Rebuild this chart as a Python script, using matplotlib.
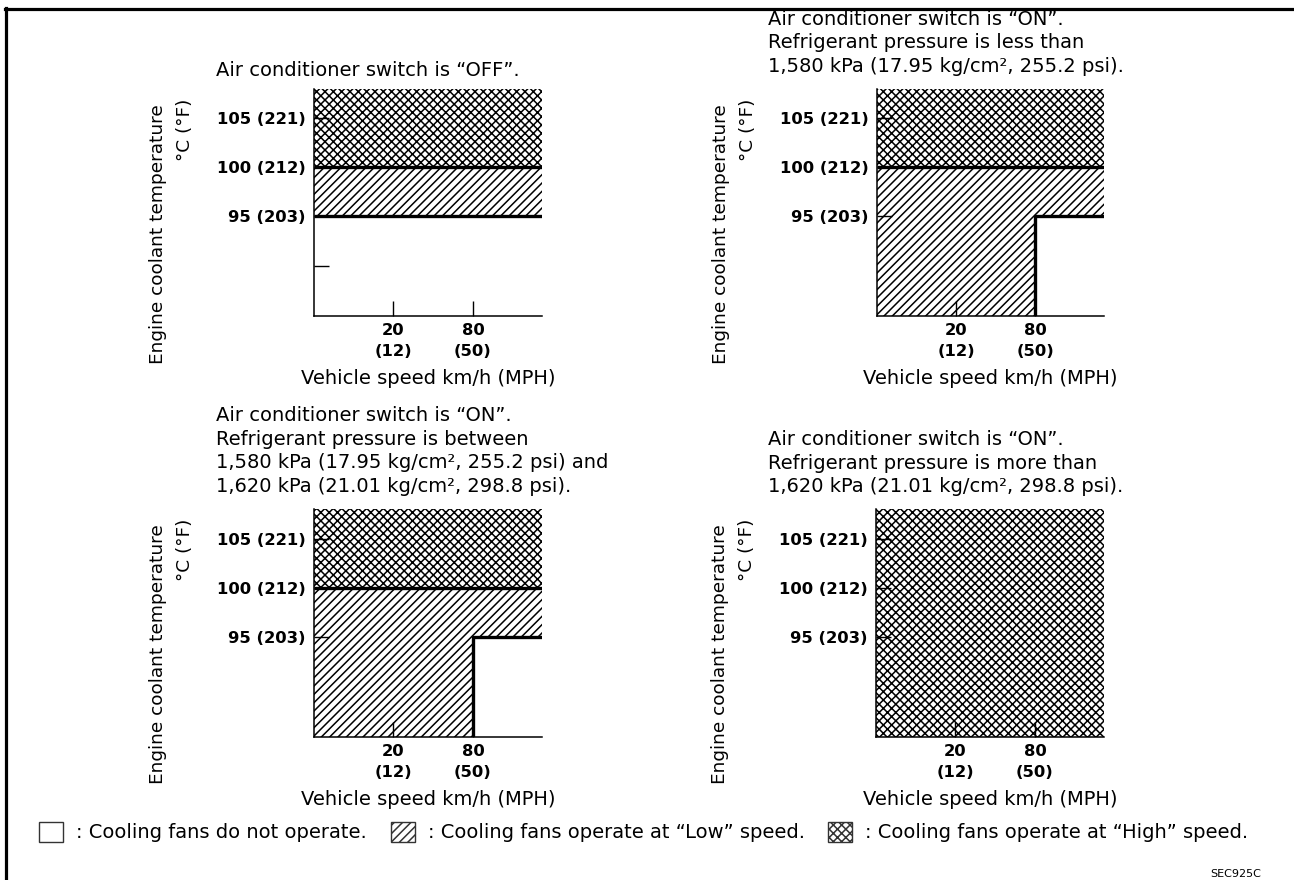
import matplotlib
matplotlib.use("Agg")
import matplotlib.pyplot as plt
from matplotlib.patches import Rectangle
from matplotlib.lines import Line2D

plt.rcParams['font.family'] = ['DejaVu Sans']
plt.rcParams['hatch.linewidth'] = 1.1

W, H = 1294, 880

# data
temp_c = [105, 100, 95]
temp_f = [221, 212, 203]
speed_kmh = [20, 80]
speed_mph = [12, 50]

titles = [
    "Air conditioner switch is “OFF”.",
    "Air conditioner switch is “ON”.\nRefrigerant pressure is less than\n1,580 kPa (17.95 kg/cm², 255.2 psi).",
    "Air conditioner switch is “ON”.\nRefrigerant pressure is between\n1,580 kPa (17.95 kg/cm², 255.2 psi) and\n1,620 kPa (21.01 kg/cm², 298.8 psi).",
    "Air conditioner switch is “ON”.\nRefrigerant pressure is more than\n1,620 kPa (21.01 kg/cm², 298.8 psi).",
]
# fan "High" above this temperature (None = always High)
high_temp = [100, 100, 100, None]
# fan "Low" above this temperature, below / above the speed break (None = from bottom)
low_temp_slow = [95, None, None, None]
low_temp_fast = [95, 95, 95, None]
speed_break = 80

legend_labels = [": Cooling fans do not operate.",
                 ": Cooling fans operate at “Low” speed.",
                 ": Cooling fans operate at “High” speed."]

# layout in pixels (left, top, right, bottom)
boxes = [(314, 89, 542, 316), (877, 89, 1104, 316),
         (314, 509, 542, 737), (876, 509, 1104, 737)]
title_pos = [(216, 70), (768, 43), (216, 451), (768, 463)]

YLIM = (84.85, 108.0)
XLIM = (0, 2.87)


def fx(x):
    return x / W


def fy(y):
    return 1 - y / H


fig = plt.figure(figsize=(W / 100, H / 100), dpi=100)

# outer frame
fig.add_artist(Line2D([fx(5), fx(W)], [fy(9.5), fy(9.5)], color='black', lw=2.3))
fig.add_artist(Line2D([fx(6.2), fx(6.2)], [fy(8.5), fy(H)], color='black', lw=2.3))

xpos = [i + 1 for i in range(len(speed_kmh))]
xb = xpos[speed_kmh.index(speed_break)]

for i in range(4):
    l, t, r, b = boxes[i]
    ax = fig.add_axes([fx(l), fy(b), (r - l) / W, (b - t) / H])
    ax.set_xlim(*XLIM)
    ax.set_ylim(*YLIM)
    y0, y1 = YLIM
    x0, x1 = XLIM

    if high_temp[i] is None:
        ax.fill_between([x0, x1], y0, y1, facecolor='white', edgecolor='black',
                        hatch='xxxx', linewidth=0)
    else:
        hi = high_temp[i]
        ax.fill_between([x0, x1], hi, y1, facecolor='white', edgecolor='black',
                        hatch='xxxx', linewidth=0)
        ls = low_temp_slow[i] if low_temp_slow[i] is not None else y0
        lf = low_temp_fast[i] if low_temp_fast[i] is not None else y0
        ax.fill_between([x0, xb, xb, x1], [ls, ls, lf, lf], hi, facecolor='white',
                        edgecolor='black', hatch='////', linewidth=0)
        ax.plot([x0, x1], [hi, hi], color='black', lw=2.4, solid_capstyle='butt')
        if ls == lf:
            ax.plot([x0, x1], [ls, ls], color='black', lw=2.4, solid_capstyle='butt')
        else:
            ax.plot([xb, xb, x1], [y0, lf, lf], color='black', lw=2.4,
                    solid_capstyle='butt')

    for s in ['top', 'right']:
        ax.spines[s].set_visible(False)
    for s in ['left', 'bottom']:
        ax.spines[s].set_linewidth(1.1)

    ax.set_yticks(temp_c, labels=[f"{c} ({f})" for c, f in zip(temp_c, temp_f)])
    if i == 0:
        ax.set_yticks([90], minor=True)
    ax.set_xticks(xpos, labels=[f"{k}\n({m})" for k, m in zip(speed_kmh, speed_mph)])
    ax.tick_params(which='both', direction='in', length=10.5, width=1.0,
                   labelsize=11.8)
    ax.tick_params(axis='y', pad=6)
    ax.tick_params(axis='x', pad=5)
    for lab in ax.get_yticklabels():
        lab.set_fontweight('bold')
    for lab in ax.get_xticklabels():
        lab.set_fontweight('bold')
        lab.set_linespacing(1.5)

    # labels
    fig.text(fx(l - 156), fy(t + 145), "Engine coolant temperature", rotation=90,
             ha='center', va='center', fontsize=13.3)
    fig.text(fx(l - 129), fy(t + 41), "°C (°F)", rotation=90,
             ha='center', va='center', fontsize=13.3)
    fig.text(fx((l + r) / 2), fy(b + 62), "Vehicle speed km/h (MPH)",
             ha='center', va='center', fontsize=14)
    tx, ty = title_pos[i]
    fig.text(fx(tx), fy(ty), titles[i], ha='left', va='center', fontsize=14,
             linespacing=1.33)

# legend row
hatches = [None, '////', 'xxxx']
box_x = [39, 391, 828]
for hx, hatch, lab in zip(box_x, hatches, legend_labels):
    fig.add_artist(Rectangle((fx(hx), fy(842)), 24 / W, 20 / H, facecolor='white',
                             edgecolor='#333333', hatch=hatch, linewidth=1.0,
                             transform=fig.transFigure))
    fig.text(fx(hx + 37), fy(832), lab, ha='left', va='center', fontsize=14)

fig.text(fx(1261), fy(874), "SEC925C", ha='right', va='center', fontsize=8)

fig.savefig("out.png", dpi=100, facecolor='white')
